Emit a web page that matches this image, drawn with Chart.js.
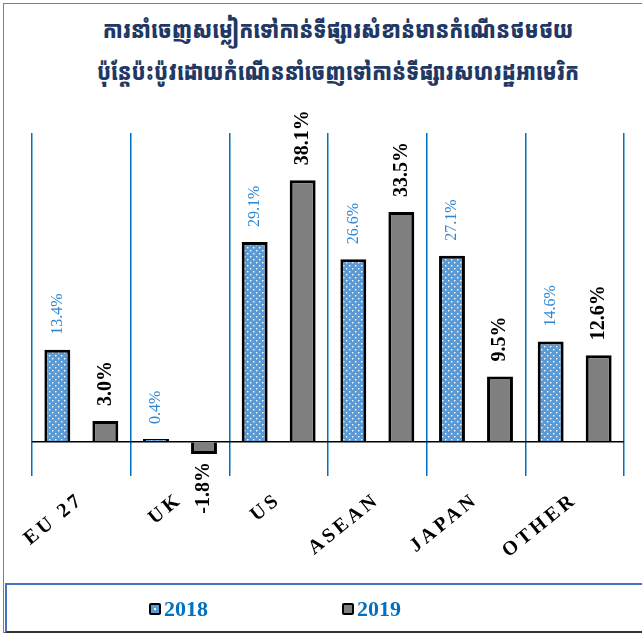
<!DOCTYPE html>
<html>
<head>
<meta charset="utf-8">
<script src="https://cdn.jsdelivr.net/npm/chart.js@4/dist/chart.umd.min.js"></script>
<style>
  body { margin: 0; background: #fff; }
  #wrap { position: relative; width: 642px; height: 635px; overflow: hidden; }
  #frame { position: absolute; left: 3px; top: 3px; width: 640px; height: 630px; border: 1px solid #7f7f7f; box-sizing: border-box; }
  #titre { position: absolute; left: 17px; top: 8px; width: 642px; text-align: center; color: #1F3864;
           font: 900 24px "Khmer OS Muol Light", "Noto Sans Khmer", "Khmer OS", serif; line-height: 42px;
           transform: scaleX(0.83); transform-origin: 321px 0; }
  #zone { position: absolute; left: 0; top: 0; width: 642px; height: 584px; }
  #legende { position: absolute; left: 5px; top: 583px; width: 640px; height: 50px; box-sizing: border-box;
             border: 2px solid #4472C4; border-bottom-color: #333; border-right: none; }
  .item { position: absolute; top: 11px; font: bold 22px "Liberation Serif", serif; color: #0070C0; }
  .box { display: inline-block; width: 8px; height: 8px; border: 2px solid #000; border-radius: 2px; margin-right: 3px; vertical-align: 1px; }
</style>
</head>
<body>
<div id="wrap">
  <div id="frame"></div>
  <div id="titre">ការនាំចេញសម្លៀកទៅកាន់ទីផ្សារសំខាន់មានកំណើនថមថយ<br>ប៉ុន្តែប៉ះប៉ូវដោយកំណើននាំចេញទៅកាន់ទីផ្សារសហរដ្ឋអាមេរិក</div>
  <div id="zone"><canvas id="graphique"></canvas></div>
  <div id="legende">
    <span class="item" style="left:142px"><span class="box" style="background:#5B9BD5 radial-gradient(circle at 50% 50%, #fff 1px, transparent 1.5px)"></span>2018</span>
    <span class="item" style="left:335px"><span class="box" style="background:#7F7F7F"></span>2019</span>
  </div>
</div>
<script>
// Données du graphique
const categories = ['EU 27', 'UK', 'US', 'ASEAN', 'JAPAN', 'OTHER'];
const annees = ['2018', '2019'];
const valeurs2018 = [13.4, 0.4, 29.1, 26.6, 27.1, 14.6];
const valeurs2019 = [3.0, -1.8, 38.1, 33.5, 9.5, 12.6];

// Motif pointillé pour 2018
function creerMotif() {
  const c = document.createElement('canvas');
  c.width = 6; c.height = 6;
  const g = c.getContext('2d');
  g.fillStyle = '#5B9BD5';
  g.fillRect(0, 0, 6, 6);
  g.fillStyle = '#ffffff';
  g.fillRect(1, 1, 1.4, 1.4);
  g.fillRect(4, 4, 1.4, 1.4);
  return g.createPattern(c, 'repeat');
}

// Étiquettes de valeur verticales
const etiquettes = {
  id: 'etiquettes',
  beforeLayout(chart) { chart.ctx.letterSpacing = '3.5px'; },
  afterDatasetsDraw(chart) {
    const ctx = chart.ctx;
    chart.data.datasets.forEach((ds, i) => {
      const meta = chart.getDatasetMeta(i);
      meta.data.forEach((bar, j) => {
        const v = ds.data[j];
        ctx.save();
        ctx.letterSpacing = '0px';
        ctx.font = i === 0 ? '16px "Liberation Serif", serif' : 'bold 20px "Liberation Serif", serif';
        ctx.fillStyle = i === 0 ? '#2E86D1' : '#000';
        ctx.translate(bar.x, v >= 0 ? bar.y - 15 : bar.y + 8);
        ctx.rotate(-Math.PI / 2);
        ctx.textAlign = v >= 0 ? 'left' : 'right';
        ctx.textBaseline = 'middle';
        ctx.fillText(v.toFixed(1) + '%', 0, 0);
        ctx.restore();
      });
    });
  }
};

new Chart(document.getElementById('graphique'), {
  type: 'bar',
  data: {
    labels: categories,
    datasets: [
      { label: annees[0], data: valeurs2018, backgroundColor: creerMotif(), borderColor: '#000', borderWidth: 3 },
      { label: annees[1], data: valeurs2019, backgroundColor: '#7F7F7F', borderColor: '#000', borderWidth: 3 }
    ]
  },
  options: {
    responsive: true,
    maintainAspectRatio: false,
    animation: false,
    categoryPercentage: 0.973,
    barPercentage: 0.54,
    layout: { padding: { left: 32, right: 18, top: 133, bottom: 0 } },
    plugins: { legend: { display: false }, title: { display: false }, tooltip: { enabled: false } },
    scales: {
      x: {
        offset: true,
        border: { display: false },
        grid: { offset: true, color: '#0070C0', lineWidth: 1.5, drawTicks: false },
        ticks: {
          color: '#000',
          font: { family: '"Liberation Serif", serif', size: 20, weight: 'bold' },
          minRotation: 39, maxRotation: 39, padding: 12
        },
        afterFit(scale) { scale.height = 108; }
      },
      y: {
        min: -5, max: 45,
        border: { display: false },
        ticks: { display: false, stepSize: 5 },
        grid: {
          drawTicks: false,
          color: c => c.tick.value === 0 ? '#000' : 'rgba(0,0,0,0)',
          lineWidth: 1.5
        },
        afterFit(scale) { scale.width = 0; }
      }
    }
  },
  plugins: [etiquettes]
});
</script>
</body>
</html>
